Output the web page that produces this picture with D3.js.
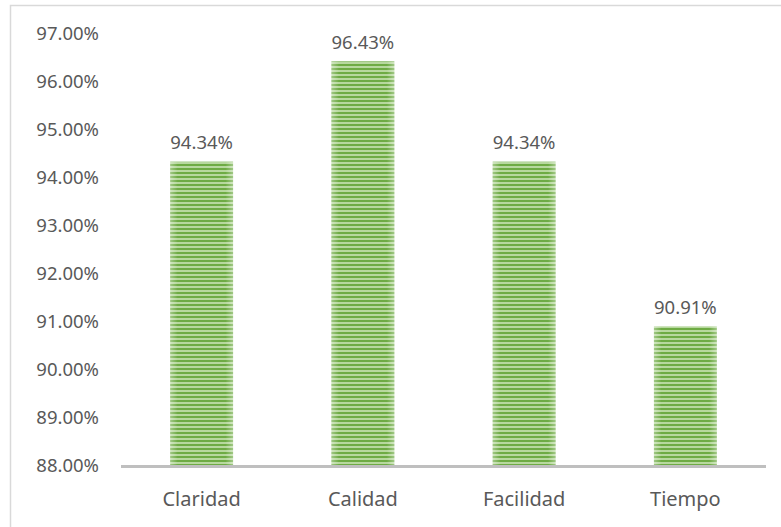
<!DOCTYPE html>
<html>
<head>
<meta charset="utf-8">
<script src="https://cdn.jsdelivr.net/npm/d3@7"></script>
<style>
  body { margin: 0; background: #fff; }
  text { font-family: "Noto Sans", sans-serif; fill: #595959; }
</style>
</head>
<body>
<div id="chart"></div>
<script>
// data
const categories = ["Claridad", "Calidad", "Facilidad", "Tiempo"]
const values = [94.34, 96.43, 94.34, 90.91]
const yTicks = [88, 89, 90, 91, 92, 93, 94, 95, 96, 97]

const width = 781
const height = 527
const margin = { top: 34, right: 15, bottom: 61, left: 121 }

const svg = d3.select("#chart")
  .append("svg")
    .attr("width", width)
    .attr("height", height)

// stripes for the bars
const defs = svg.append("defs")
const pattern = defs.append("pattern")
    .attr("id", "stripes")
    .attr("patternUnits", "userSpaceOnUse")
    .attr("width", 8)
    .attr("height", 4)
pattern.append("rect").attr("width", 8).attr("height", 4).attr("fill", "#b7d89e")
pattern.append("rect").attr("width", 8).attr("height", 2).attr("fill", "#6eab44")

const shade = defs.append("linearGradient")
    .attr("id", "edge")
    .attr("x1", "0").attr("x2", "1").attr("y1", "0").attr("y2", "0")
shade.append("stop").attr("offset", "0").attr("stop-color", "#fff").attr("stop-opacity", 0.35)
shade.append("stop").attr("offset", "0.12").attr("stop-color", "#fff").attr("stop-opacity", 0)
shade.append("stop").attr("offset", "0.88").attr("stop-color", "#fff").attr("stop-opacity", 0)
shade.append("stop").attr("offset", "1").attr("stop-color", "#fff").attr("stop-opacity", 0.35)

// frame of the chart area (cropped)
svg.append("path")
    .attr("d", "M10.5," + height + "V5.5H" + width)
    .attr("fill", "none")
    .attr("stroke", "#d9d9d9")
    .attr("stroke-width", 1.5)

const x = d3.scaleBand()
    .domain(categories)
    .range([margin.left, width - margin.right])
    .paddingInner(0.61)
    .paddingOuter(0.305)

const y = d3.scaleLinear()
    .domain([88, 97])
    .range([height - margin.bottom, margin.top])

// y labels
svg.append("g")
  .selectAll("text")
  .data(yTicks)
  .join("text")
    .attr("x", 99)
    .attr("y", d => y(d))
    .attr("dy", "0.35em")
    .attr("text-anchor", "end")
    .style("font-size", "18.5px")
    .text(d => d.toFixed(2) + "%")

// bars
const bars = svg.append("g")
bars.selectAll("rect.bar")
  .data(values)
  .join("rect")
    .attr("class", "bar")
    .attr("x", (d, i) => x(categories[i]))
    .attr("y", d => y(d))
    .attr("width", x.bandwidth())
    .attr("height", d => y(88) - y(d))
    .attr("fill", "url(#stripes)")
bars.selectAll("rect.edge")
  .data(values)
  .join("rect")
    .attr("class", "edge")
    .attr("x", (d, i) => x(categories[i]))
    .attr("y", d => y(d))
    .attr("width", x.bandwidth())
    .attr("height", d => y(88) - y(d))
    .attr("fill", "url(#edge)")

// value labels
svg.append("g")
  .selectAll("text")
  .data(values)
  .join("text")
    .attr("x", (d, i) => x(categories[i]) + x.bandwidth() / 2)
    .attr("y", d => y(d) - 19)
    .attr("dy", "0.35em")
    .attr("text-anchor", "middle")
    .style("font-size", "18.5px")
    .text(d => d.toFixed(2) + "%")

// x axis line
svg.append("line")
    .attr("x1", margin.left)
    .attr("x2", width - margin.right)
    .attr("y1", y(88) + 0.5)
    .attr("y2", y(88) + 0.5)
    .attr("stroke", "#bfbfbf")
    .attr("stroke-width", 3)

// category labels
svg.append("g")
  .selectAll("text")
  .data(categories)
  .join("text")
    .attr("x", d => x(d) + x.bandwidth() / 2)
    .attr("y", 506)
    .attr("text-anchor", "middle")
    .style("font-size", "20px")
    .text(d => d)
</script>
</body>
</html>
